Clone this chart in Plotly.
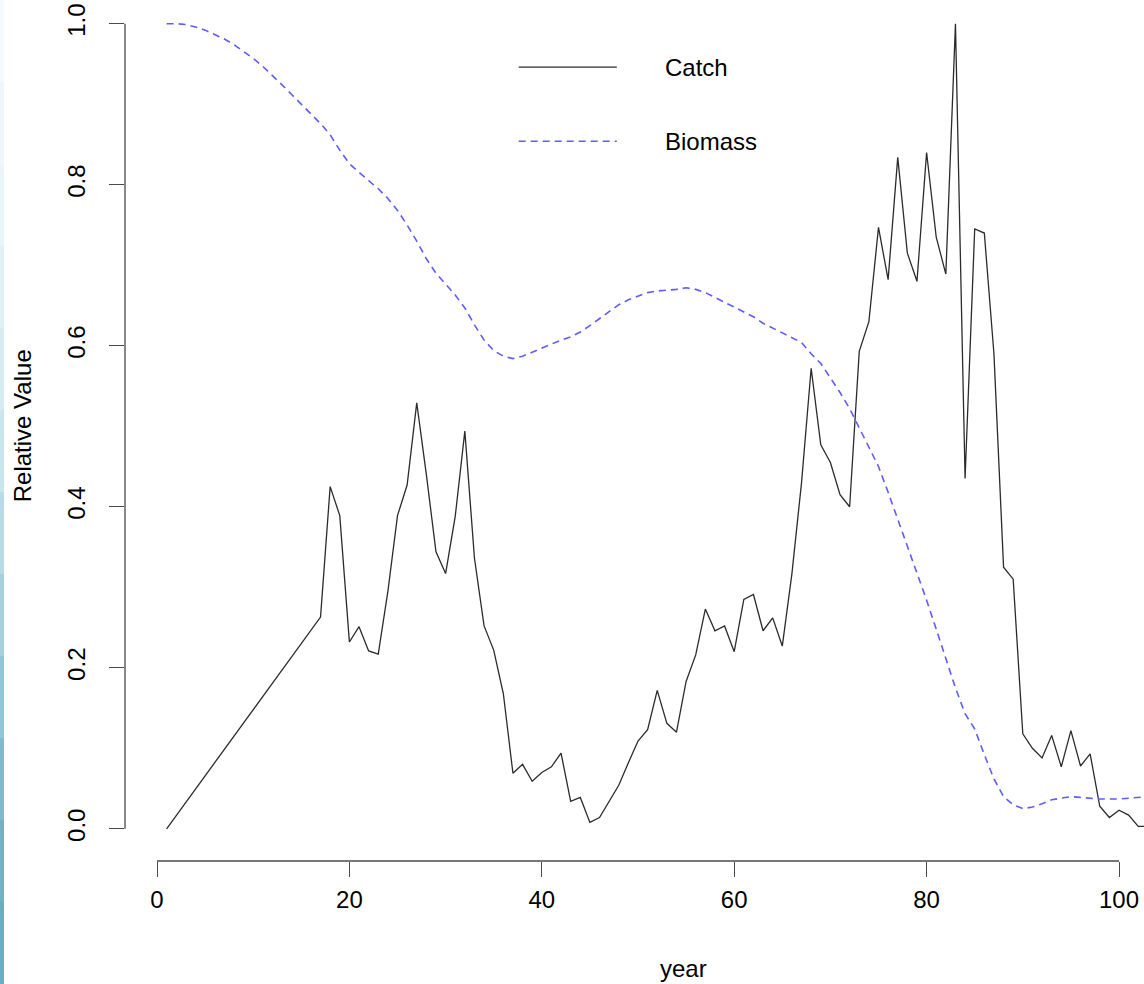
import plotly.graph_objects as go

# ---------------- data ----------------
catch_years = [1] + list(range(17, 104))
catch_values = [
    0.000,
    0.263, 0.425, 0.389, 0.232, 0.251, 0.221, 0.217, 0.295, 0.389, 0.427,
    0.529, 0.440, 0.344, 0.317, 0.388, 0.494, 0.336, 0.252, 0.222, 0.168,
    0.069, 0.080, 0.059, 0.070, 0.077, 0.094, 0.034, 0.039, 0.008, 0.014,
    0.034, 0.054, 0.082, 0.109, 0.123, 0.172, 0.131, 0.120, 0.183, 0.216,
    0.273, 0.246, 0.252, 0.220, 0.285, 0.291, 0.246, 0.262, 0.227, 0.317,
    0.430, 0.572, 0.477, 0.455, 0.415, 0.400, 0.593, 0.630, 0.747, 0.682,
    0.834, 0.715, 0.680, 0.840, 0.735, 0.689, 1.000, 0.435, 0.745, 0.740,
    0.590, 0.325, 0.310, 0.118, 0.100, 0.088, 0.116, 0.077, 0.122, 0.078,
    0.093, 0.028, 0.014, 0.023, 0.017, 0.003, 0.003,
]

biomass_years = list(range(1, 104))
biomass_values = [
    1.000, 1.000, 0.999, 0.996, 0.992, 0.987, 0.981, 0.974, 0.966, 0.957,
    0.947, 0.936, 0.924, 0.912, 0.900, 0.888, 0.876, 0.862, 0.843, 0.826,
    0.815, 0.805, 0.795, 0.783, 0.768, 0.750, 0.730, 0.708, 0.690, 0.676,
    0.663, 0.647, 0.626, 0.607, 0.594, 0.587, 0.584, 0.587, 0.592, 0.598,
    0.603, 0.607, 0.611, 0.617, 0.625, 0.634, 0.643, 0.651, 0.657, 0.662,
    0.666, 0.668, 0.669, 0.670, 0.672, 0.670, 0.666, 0.660, 0.654, 0.649,
    0.643, 0.636, 0.628, 0.622, 0.616, 0.611, 0.604, 0.590, 0.578, 0.560,
    0.542, 0.522, 0.498, 0.475, 0.450, 0.418, 0.385, 0.350, 0.318, 0.284,
    0.248, 0.210, 0.175, 0.143, 0.124, 0.092, 0.062, 0.040, 0.030, 0.025,
    0.027, 0.031, 0.036, 0.038, 0.040, 0.039, 0.038, 0.037, 0.037, 0.037,
    0.038, 0.039, 0.040,
]

x_ticks = [0, 20, 40, 60, 80, 100]
x_tick_labels = ["0", "20", "40", "60", "80", "100"]
y_ticks = [0.0, 0.2, 0.4, 0.6, 0.8, 1.0]
y_tick_labels = ["0.0", "0.2", "0.4", "0.6", "0.8", "1.0"]

series_names = ["Catch", "Biomass"]

# ---------------- styles ----------------
FONT = "Liberation Sans, Arial, Helvetica, sans-serif"
AXIS_COLOR = "#4a4a4a"
CATCH_COLOR = "#2b2b2b"
BIOMASS_COLOR = "#5c5cff"
DASH = "7px,5px"

fig = go.Figure()

fig.add_trace(go.Scatter(
    x=catch_years, y=catch_values, mode="lines", name=series_names[0],
    line=dict(color=CATCH_COLOR, width=1.3), showlegend=False,
))
fig.add_trace(go.Scatter(
    x=biomass_years, y=biomass_values, mode="lines", name=series_names[1],
    line=dict(color=BIOMASS_COLOR, width=1.6, dash=DASH), showlegend=False,
))

shapes = []
# R-style axis lines spanning only the tick range
shapes.append(dict(type="line", xref="x", yref="paper", x0=x_ticks[0], x1=x_ticks[-1],
                   y0=0, y1=0, line=dict(color=AXIS_COLOR, width=1.3)))
shapes.append(dict(type="line", xref="paper", yref="y", x0=0, x1=0,
                   y0=y_ticks[0], y1=y_ticks[-1], line=dict(color=AXIS_COLOR, width=1.3)))

# legend (drawn like R's legend without box)
shapes.append(dict(type="line", xref="x", yref="y", x0=37.6, x1=47.8, y0=0.946, y1=0.946,
                   line=dict(color=CATCH_COLOR, width=1.3)))
shapes.append(dict(type="line", xref="x", yref="y", x0=37.6, x1=47.8, y0=0.854, y1=0.854,
                   line=dict(color=BIOMASS_COLOR, width=1.6, dash=DASH)))

# decorative page-edge strip at far left
strip_colors = ["#f3fbfd", "#eef8fb", "#e8f5f9", "#e0f1f6", "#d6ecf2", "#c9e5ee",
                "#b8dce7", "#a5d1df", "#92c6d6", "#80bbcd", "#72b2c6", "#69adc2"]
plot_w = 1144 - 125
plot_h = 861
n = len(strip_colors)
for i, c in enumerate(strip_colors):
    top_px = 984 * i / n
    bot_px = 984 * (i + 1) / n
    shapes.append(dict(type="rect", xref="paper", yref="paper",
                       x0=(0 - 125) / plot_w, x1=(4 - 125) / plot_w,
                       y0=(plot_h - bot_px) / plot_h, y1=(plot_h - top_px) / plot_h,
                       line=dict(width=0), fillcolor=c, layer="above"))

annotations = [
    dict(text=series_names[0], xref="x", yref="y", x=52.6, y=0.946, xanchor="left",
         yanchor="middle", showarrow=False, font=dict(family=FONT, size=24, color="black")),
    dict(text=series_names[1], xref="x", yref="y", x=52.6, y=0.854, xanchor="left",
         yanchor="middle", showarrow=False, font=dict(family=FONT, size=24, color="black")),
    dict(text="Relative Value", xref="paper", yref="y", x=(22 - 125) / plot_w, y=0.5,
         xanchor="center", yanchor="middle", textangle=-90, showarrow=False,
         font=dict(family=FONT, size=24, color="black")),
    dict(text="year", xref="x", yref="paper", x=54.7, y=(plot_h - 968) / plot_h,
         xanchor="center", yanchor="middle", showarrow=False,
         font=dict(family=FONT, size=24, color="black")),
]

fig.update_layout(
    width=1144, height=984,
    margin=dict(l=125, r=0, t=0, b=123, pad=0),
    paper_bgcolor="white", plot_bgcolor="white",
    font=dict(family=FONT, size=24, color="black"),
    shapes=shapes, annotations=annotations,
    showlegend=False,
    xaxis=dict(range=[(125 - 157) / 9.62, (1144 - 157) / 9.62], showgrid=False, zeroline=False,
               showline=False, tickmode="array", tickvals=x_ticks, ticktext=x_tick_labels,
               ticks="outside", ticklen=15, tickwidth=1.3, tickcolor=AXIS_COLOR,
               tickfont=dict(family=FONT, size=24, color="black"), ticklabelstandoff=2),
    yaxis=dict(range=[-0.04, 828.7 / 805], showgrid=False, zeroline=False,
               showline=False, tickmode="array", tickvals=y_ticks, ticktext=y_tick_labels,
               ticks="outside", ticklen=15, tickwidth=1.3, tickcolor=AXIS_COLOR, tickangle=-90,
               tickfont=dict(family=FONT, size=24, color="black"), ticklabelstandoff=14),
)

fig.write_html("out.html")
